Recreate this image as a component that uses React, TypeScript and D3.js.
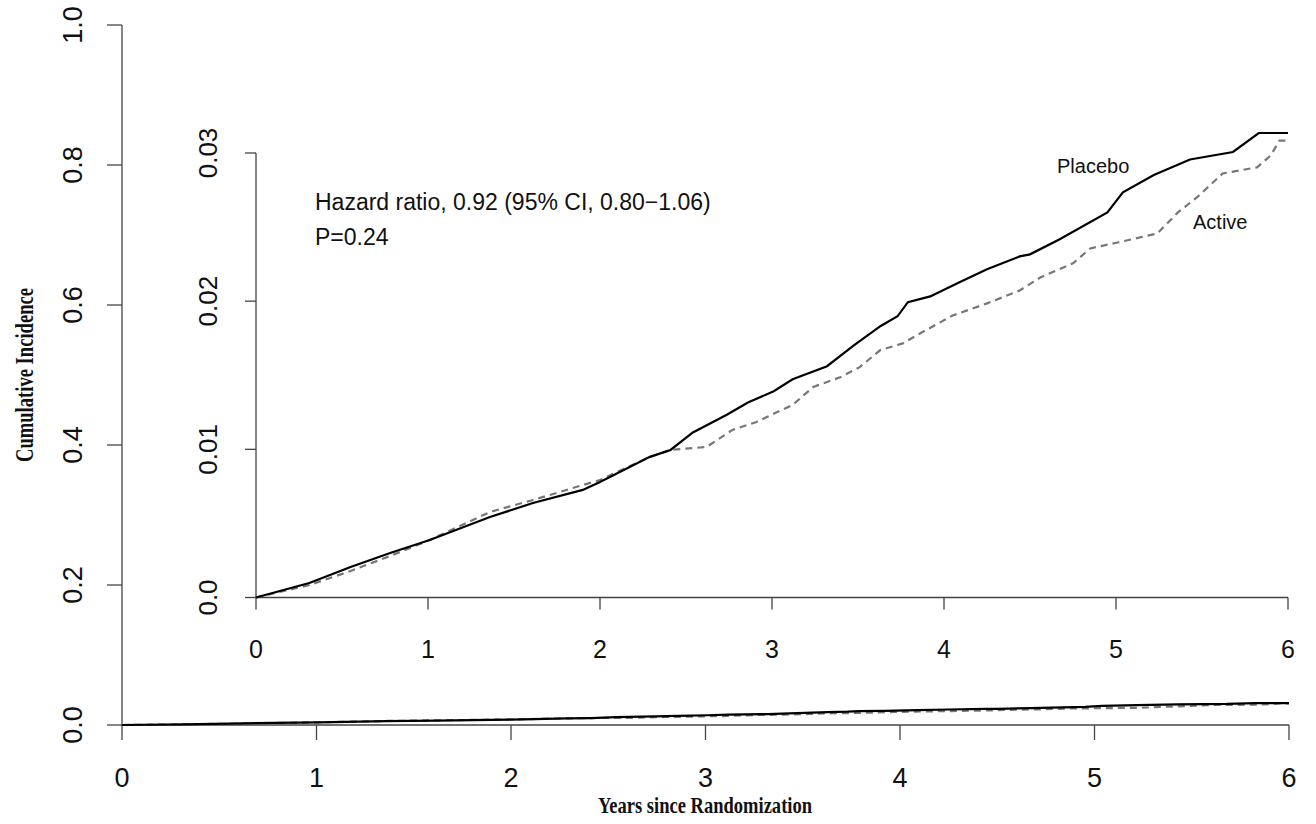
import React from "react";
import * as d3 from "d3";

// x ticks (years) and y ticks for the two panels
const yearTicks = [0, 1, 2, 3, 4, 5, 6];
const mainTicks = [0, 0.2, 0.4, 0.6, 0.8, 1.0];
const mainTickLabels = ["0.0", "0.2", "0.4", "0.6", "0.8", "1.0"];
const insetTicks = [0, 0.01, 0.02, 0.03];
const insetTickLabels = ["0.0", "0.01", "0.02", "0.03"];

// cumulative incidence
const placeboYears = [0, 0.31, 0.55, 0.78, 1.01, 1.36, 1.61, 1.9, 2.0, 2.29, 2.41, 2.54, 2.74, 2.86, 3.01, 3.12, 3.32, 3.47, 3.63, 3.73, 3.79, 3.92, 4.09, 4.25, 4.44, 4.5, 4.67, 4.95, 5.04, 5.22, 5.43, 5.68, 5.83, 6.0];
const placeboInc = [0, 0.00098, 0.00206, 0.003, 0.00388, 0.00543, 0.00638, 0.00726, 0.0078, 0.00949, 0.00996, 0.01114, 0.01235, 0.01316, 0.01392, 0.01473, 0.01561, 0.01696, 0.01831, 0.01898, 0.01993, 0.02032, 0.02127, 0.02215, 0.02302, 0.02316, 0.02416, 0.02599, 0.02734, 0.02851, 0.02956, 0.03007, 0.03135, 0.03135];

const activeYears = [0, 0.31, 0.55, 0.78, 1.01, 1.36, 1.61, 1.9, 2.0, 2.29, 2.41, 2.62, 2.77, 2.91, 3.12, 3.24, 3.4, 3.51, 3.63, 3.76, 3.86, 4.05, 4.25, 4.44, 4.56, 4.75, 4.85, 5.01, 5.24, 5.36, 5.47, 5.62, 5.82, 5.9, 5.95, 6.0];
const activeInc = [0, 0.00084, 0.00179, 0.0028, 0.00388, 0.00577, 0.00658, 0.00759, 0.00793, 0.00949, 0.00996, 0.01016, 0.01131, 0.01185, 0.013, 0.01421, 0.01488, 0.01555, 0.0167, 0.01715, 0.01782, 0.01903, 0.01985, 0.02072, 0.0216, 0.02255, 0.02356, 0.02396, 0.02457, 0.02599, 0.027, 0.02862, 0.02903, 0.02984, 0.03084, 0.03084];

const sans = "'Liberation Sans', Arial, sans-serif";
const serif = "'Liberation Serif', 'Times New Roman', serif";
const axisColor = "#444";

export default function App() {
  const width = 1316;
  const height = 824;

  const xMain = d3.scaleLinear().domain([0, 6]).range([122, 1289]);
  const yMain = d3.scaleLinear().domain([0, 1]).range([725, 25]);
  const xIn = d3.scaleLinear().domain([0, 6]).range([256, 1288]);
  const yIn = d3.scaleLinear().domain([0, 0.03]).range([597.5, 153]);

  const placebo = placeboYears.map((t, i) => [t, placeboInc[i]] as [number, number]);
  const active = activeYears.map((t, i) => [t, activeInc[i]] as [number, number]);

  const lineMain = d3
    .line<[number, number]>()
    .x((d) => xMain(d[0]))
    .y((d) => yMain(d[1]));
  const lineIn = d3
    .line<[number, number]>()
    .x((d) => xIn(d[0]))
    .y((d) => yIn(d[1]));

  return (
    <svg
      width={width}
      height={height}
      style={{ position: "absolute", left: 0, top: 0, background: "#fff" }}
    >
      {/* main panel axes */}
      <line x1={xMain(0)} x2={xMain(0)} y1={yMain(0)} y2={yMain(1)} stroke={axisColor} strokeWidth={1.3} />
      {mainTicks.map((v, i) => (
        <g key={"my" + i}>
          <line x1={xMain(0) - 15} x2={xMain(0)} y1={yMain(v)} y2={yMain(v)} stroke={axisColor} strokeWidth={1.3} />
          <text
            transform={`translate(82,${yMain(v)}) rotate(-90)`}
            textAnchor="middle"
            fontFamily={sans}
            fontSize={27}
            fill="#111"
          >
            {mainTickLabels[i]}
          </text>
        </g>
      ))}
      <line x1={xMain(0)} x2={xMain(6)} y1={yMain(0)} y2={yMain(0)} stroke={axisColor} strokeWidth={1.3} />
      {yearTicks.map((t) => (
        <g key={"mx" + t}>
          <line x1={xMain(t)} x2={xMain(t)} y1={yMain(0)} y2={yMain(0) + 15} stroke={axisColor} strokeWidth={1.3} />
          <text x={xMain(t)} y={787} textAnchor="middle" fontFamily={sans} fontSize={27} fill="#111">
            {t}
          </text>
        </g>
      ))}

      {/* main panel curves */}
      <path d={lineMain(active) || ""} fill="none" stroke="#777" strokeWidth={2.2} strokeDasharray="7,5" />
      <path d={lineMain(placebo) || ""} fill="none" stroke="#000" strokeWidth={2.2} />

      {/* axis titles */}
      <text
        transform="translate(33,375) rotate(-90)"
        textAnchor="middle"
        fontFamily={serif}
        fontWeight="bold"
        fontSize={25}
        textLength={174}
        lengthAdjust="spacingAndGlyphs"
        fill="#111"
      >
        Cumulative Incidence
      </text>
      <text
        x={705}
        y={813}
        textAnchor="middle"
        fontFamily={serif}
        fontWeight="bold"
        fontSize={24}
        textLength={214}
        lengthAdjust="spacingAndGlyphs"
        fill="#111"
      >
        Years since Randomization
      </text>

      {/* inset axes */}
      <line x1={xIn(0)} x2={xIn(0)} y1={yIn(0)} y2={yIn(0.03)} stroke={axisColor} strokeWidth={1.3} />
      {insetTicks.map((v, i) => (
        <g key={"iy" + i}>
          <line x1={xIn(0) - 11} x2={xIn(0)} y1={yIn(v)} y2={yIn(v)} stroke={axisColor} strokeWidth={1.3} />
          <text
            transform={`translate(217,${yIn(v)}) rotate(-90)`}
            textAnchor="middle"
            fontFamily={sans}
            fontSize={26}
            fill="#111"
          >
            {insetTickLabels[i]}
          </text>
        </g>
      ))}
      <line x1={xIn(0)} x2={xIn(6)} y1={yIn(0)} y2={yIn(0)} stroke={axisColor} strokeWidth={1.3} />
      {yearTicks.map((t) => (
        <g key={"ix" + t}>
          <line x1={xIn(t)} x2={xIn(t)} y1={yIn(0)} y2={yIn(0) + 12} stroke={axisColor} strokeWidth={1.3} />
          <text x={xIn(t)} y={658} textAnchor="middle" fontFamily={sans} fontSize={25} fill="#111">
            {t}
          </text>
        </g>
      ))}

      {/* inset curves */}
      <path d={lineIn(active) || ""} fill="none" stroke="#777" strokeWidth={2.2} strokeDasharray="7,5" />
      <path d={lineIn(placebo) || ""} fill="none" stroke="#000" strokeWidth={2.2} />

      {/* annotations */}
      <text x={315} y={210} fontFamily={sans} fontSize={23} fill="#111">
        Hazard ratio, 0.92 (95% CI, 0.80−1.06)
      </text>
      <text x={315} y={245} fontFamily={sans} fontSize={23} fill="#111">
        P=0.24
      </text>
      <text x={1057} y={173} fontFamily={sans} fontSize={20} fill="#111">
        Placebo
      </text>
      <text x={1193} y={229} fontFamily={sans} fontSize={20} fill="#111">
        Active
      </text>
    </svg>
  );
}
